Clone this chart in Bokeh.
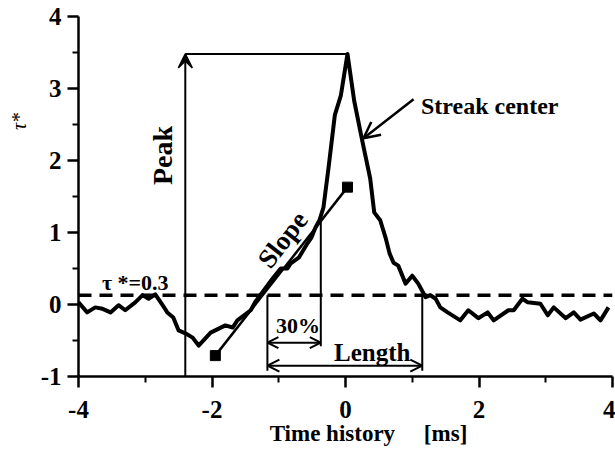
import numpy as np
from bokeh.plotting import figure
from bokeh.models import Arrow, OpenHead, VeeHead, Label, FixedTicker, Span, Range1d
from bokeh.embed import file_html
from bokeh.resources import INLINE

# ---- data ----
time_ms = [-4.00, -3.87, -3.75, -3.64, -3.52, -3.40, -3.30, -3.15, -3.04, -2.95,
           -2.85, -2.74, -2.67, -2.58, -2.50, -2.40, -2.29, -2.20, -2.10, -2.02,
           -1.80, -1.69, -1.62, -1.42, -1.35, -1.23, -1.15, -1.08, -0.97, -0.87,
           -0.82, -0.70, -0.57, -0.51, -0.45, -0.39, -0.33, -0.25, -0.16, -0.07,
           0.03, 0.13, 0.25, 0.37, 0.43, 0.52, 0.60, 0.66, 0.72, 0.79,
           0.90, 1.00, 1.09, 1.20, 1.27, 1.35, 1.42, 1.53, 1.72, 1.84,
           1.99, 2.13, 2.22, 2.44, 2.52, 2.65, 2.73, 2.92, 3.03, 3.12,
           3.30, 3.42, 3.52, 3.72, 3.82, 3.94]
tau_star = [0.03, -0.11, -0.04, -0.06, -0.11, -0.01, -0.08, 0.03, 0.13, 0.08,
            0.14, -0.01, -0.11, -0.18, -0.36, -0.40, -0.46, -0.57, -0.47, -0.39,
            -0.29, -0.32, -0.22, -0.08, 0.04, 0.19, 0.29, 0.375, 0.50, 0.50,
            0.57, 0.65, 0.85, 0.93, 1.07, 1.17, 1.35, 1.93, 2.63, 2.90,
            3.48, 2.83, 2.28, 1.75, 1.28, 1.17, 0.93, 0.71, 0.58, 0.54,
            0.29, 0.40, 0.29, 0.10, 0.13, 0.08, -0.04, -0.11, -0.22, -0.08,
            -0.19, -0.11, -0.22, -0.08, -0.08, 0.08, 0.03, 0.01, -0.15, -0.04,
            -0.19, -0.11, -0.21, -0.125, -0.22, -0.04]

threshold = 0.13                 # drawn level of the tau*=0.3 threshold line
peak_marker_time = -2.40         # where the "Peak" arrow stands
length_bounds = [-1.17, 1.15]    # threshold crossings
thirty_pct_time = -0.37          # end of the 30 % interval
thirty_pct_value = 1.17
slope_x = [-1.95, 0.03]
slope_y = [-0.71, 1.63]
length_arrow_y = -0.85
thirty_arrow_y = -0.53

x_ticks = [-4, -2, 0, 2, 4]
x_minor = [-3, -1, 1, 3]
x_tick_labels = ["-4", "-2", "0", "2", "4"]
y_ticks = [-1, 0, 1, 2, 3, 4]
y_minor = [-0.5, 0.5, 1.5, 2.5, 3.5]
y_tick_labels = ["-1", "0", "1", "2", "3", "4"]

FONT = "Liberation Serif"
NB = "\u00a0"

p = figure(width=615, height=450, x_range=Range1d(-4, 4), y_range=Range1d(-1, 4),
           output_backend="svg", toolbar_location=None,
           min_border_left=78, min_border_right=3, min_border_top=16, min_border_bottom=74)
p.outline_line_color = None
p.grid.visible = False

p.xaxis.ticker = FixedTicker(ticks=x_ticks, minor_ticks=x_minor)
p.yaxis.ticker = FixedTicker(ticks=y_ticks, minor_ticks=y_minor)
p.xaxis.major_label_overrides = {t: l for t, l in zip(x_ticks, x_tick_labels)}
p.yaxis.major_label_overrides = {t: l for t, l in zip(y_ticks, y_tick_labels)}

for ax in (p.xaxis[0], p.yaxis[0]):
    ax.axis_line_width = 2.5
    ax.axis_line_color = "black"
    ax.major_tick_out = 11
    ax.major_tick_in = 0
    ax.minor_tick_out = 6
    ax.minor_tick_in = 0
    ax.major_tick_line_width = 2.5
    ax.minor_tick_line_width = 2
    ax.major_tick_line_color = "black"
    ax.minor_tick_line_color = "black"
    ax.major_label_text_font = FONT
    ax.major_label_text_font_style = "bold"
    ax.major_label_text_font_size = "25px"
    ax.major_label_text_color = "black"
    ax.axis_label_text_font = FONT
    ax.axis_label_text_color = "black"

p.xaxis.major_label_standoff = 13
p.yaxis.major_label_standoff = 6
p.xaxis.axis_label = NB * 8 + "Time history" + NB * 5 + "[ms]"
p.xaxis.axis_label_text_font_style = "bold"
p.xaxis.axis_label_text_font_size = "23px"
p.xaxis.axis_label_standoff = 0
p.yaxis.axis_label = NB * 30 + "τ*"
p.yaxis.axis_label_text_font_style = "italic"
p.yaxis.axis_label_text_font_size = "20px"
p.yaxis.axis_label_standoff = 8

# threshold line
p.add_layout(Span(location=threshold, dimension="width", line_color="black",
                  line_width=3.5, line_dash="13 8"))

# main signal
p.line(time_ms, tau_star, line_color="black", line_width=4, line_join="round")

# slope fit
p.line(slope_x, slope_y, line_color="black", line_width=2.5)
p.scatter(slope_x, slope_y, marker="square", size=10, color="black")

# peak annotation
peak_i = int(np.argmax(tau_star))
peak_t, peak_v = time_ms[peak_i], tau_star[peak_i]
p.add_layout(Arrow(x_start=peak_marker_time, y_start=-1, x_end=peak_marker_time, y_end=peak_v,
                   line_width=2, end=VeeHead(size=14, fill_color="black", line_width=1.5)))
p.add_layout(Arrow(x_start=peak_marker_time, y_start=peak_v, x_end=peak_t, y_end=peak_v,
                   line_width=2, end=None))

# length & 30 % markers
p.segment(x0=length_bounds, y0=[threshold, threshold], x1=length_bounds,
          y1=[length_arrow_y - 0.07] * 2, line_color="black", line_width=2)
p.segment(x0=[thirty_pct_time], y0=[thirty_arrow_y - 0.05], x1=[thirty_pct_time],
          y1=[thirty_pct_value], line_color="black", line_width=2)
p.add_layout(Arrow(x_start=length_bounds[0], y_start=length_arrow_y, x_end=length_bounds[1],
                   y_end=length_arrow_y, line_width=2,
                   start=OpenHead(size=12, line_width=2), end=OpenHead(size=12, line_width=2)))
p.add_layout(Arrow(x_start=length_bounds[0], y_start=thirty_arrow_y, x_end=thirty_pct_time,
                   y_end=thirty_arrow_y, line_width=2,
                   start=OpenHead(size=11, line_width=2), end=OpenHead(size=11, line_width=2)))

# streak center pointer
p.add_layout(Arrow(x_start=1.02, y_start=2.85, x_end=0.27, y_end=2.31, line_width=2.5,
                   end=OpenHead(size=16, line_width=2.5)))


def lab(x, y, text, size, angle=0):
    p.add_layout(Label(x=x, y=y, text=text, angle=angle, angle_units="deg",
                       text_font=FONT, text_font_style="bold", text_font_size=size,
                       text_color="black", text_align="center", text_baseline="middle"))


lab(-2.74, 2.07, "Peak", "28px", 90)
lab(-0.94, 0.90, "Slope", "27px", 52)
lab(-0.71, -0.29, "30%", "22px")
lab(0.40, -0.67, "Length", "25px")
lab(2.16, 2.76, "Streak center", "24px")
lab(-3.15, 0.31, "τ *=0.3", "22px")

open("out.html", "w").write(file_html(p, INLINE))
